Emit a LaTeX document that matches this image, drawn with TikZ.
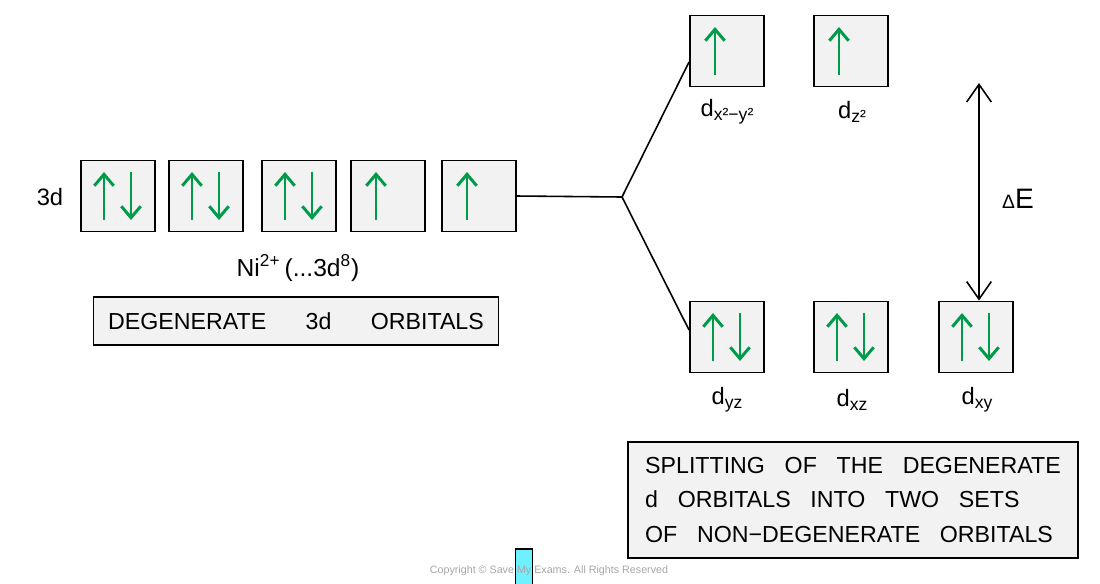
\documentclass[tikz,border=0pt]{standalone}
\usepackage{fontspec}
\setmainfont{Liberation Sans}
\usetikzlibrary{arrows.meta,calc}
\definecolor{spin}{RGB}{0,155,72}
\definecolor{boxgray}{RGB}{242,242,242}
\definecolor{tabcyan}{RGB}{110,240,255}
\newcommand{\orbsub}[1]{\raisebox{-0.35ex}{\fontsize{10}{12}\selectfont #1}}
\newcommand{\wgap}{\hspace{0.85em}}

\begin{document}
\begin{tikzpicture}[x=0.02cm,y=-0.02cm,
    orb/.style={draw,line width=1.1pt,fill=boxgray,minimum width=1.48cm,minimum height=1.42cm,inner sep=0},
    up/.style={spin,line width=1.7pt,-{Straight Barb[length=6.5pt,width=11pt,line width=1.7pt]}},
    lbl/.style={font=\fontsize{13.5}{15}\selectfont},
    notebox/.style={draw,line width=0.9pt,fill=boxgray,font=\fontsize{13.2}{19.7}\selectfont}]
    \useasboundingbox (0,0) rectangle (1100,583);
    % degenerate 3d set
    \node[orb] (a1) at (118,196) {};
    \node[orb] (a2) at (206,196) {};
    \node[orb] (a3) at (299,196) {};
    \node[orb] (a4) at (388,196) {};
    \node[orb] (a5) at (479,196) {};
    \node[lbl] (lab3d) at (50,197) {3d};
    \node[lbl,font=\fontsize{14}{16}\selectfont] (ion) at (298,268) {Ni\textsuperscript{2+}\,(...3d\textsuperscript{8})};
    \node[notebox,minimum width=8.1cm,minimum height=0.96cm] (degen) at (296,321) {DEGENERATE\hspace{1.7em}3d\hspace{1.7em}ORBITALS};
    % split sets
    \node[orb] (x2y2) at (727,51) {};
    \node[orb] (z2) at (851,51) {};
    \node[orb] (yz) at (727,337) {};
    \node[orb] (xz) at (851,337) {};
    \node[orb] (xy) at (976,337) {};
    \node[lbl] at (727,112) {d\orbsub{x²−y²}};
    \node[lbl] at (852,112) {d\orbsub{z²}};
    \node[lbl] at (727,400) {d\orbsub{yz}};
    \node[lbl] at (852,400) {d\orbsub{xz}};
    \node[lbl] at (977,400) {d\orbsub{xy}};
    % electrons
    \foreach \b in {a1,a2,a3,yz,xz,xy} {
        \draw[up] ($(\b)+(-14,24)$) -- ($(\b)+(-14,-24)$);
        \draw[up] ($(\b)+(13,-24)$) -- ($(\b)+(13,24)$);
    }
    \foreach \b in {a4,a5,x2y2,z2}
        \draw[up] ($(\b)+(-12,24)$) -- ($(\b)+(-12,-24)$);
    % splitting lines
    \coordinate (fork) at (622,197);
    \draw[line width=0.9pt] (a5.east) -- (fork);
    \draw[line width=0.9pt] (fork) -- ($(x2y2.west)+(0,11)$);
    \draw[line width=0.9pt] (fork) -- ($(yz.west)+(0,-7)$);
    % energy gap
    \coordinate (etop) at (979,83);
    \draw[line width=0.9pt,{Straight Barb[length=10pt,width=14pt,line width=0.9pt]}-{Straight Barb[length=10pt,width=14pt,line width=0.9pt]}] (etop) -- ($(xy.north)+(3,0)$);
    \node[lbl,font=\fontsize{16}{18}\selectfont] (gap) at (1018,199) {{\fontsize{11}{12}\selectfont Δ}E};
    \node[notebox,align=left,minimum width=9cm,minimum height=2.32cm] (split) at (853,500)
        {SPLITTING\wgap OF\wgap THE\wgap DEGENERATE\\d\wgap ORBITALS\wgap INTO\wgap TWO\wgap SETS\\OF\wgap NON−DEGENERATE\wgap ORBITALS};
    % footer
    \node[draw,line width=0.9pt,fill=tabcyan,minimum width=0.34cm,minimum height=0.8cm,inner sep=0,anchor=north] (tab) at (524,548) {};
    \node[text=black!35,font=\fontsize{6.1}{8}\selectfont] (copy) at (549,571) {Copyright © Save My Exams. All Rights Reserved};
\end{tikzpicture}
\end{document}
